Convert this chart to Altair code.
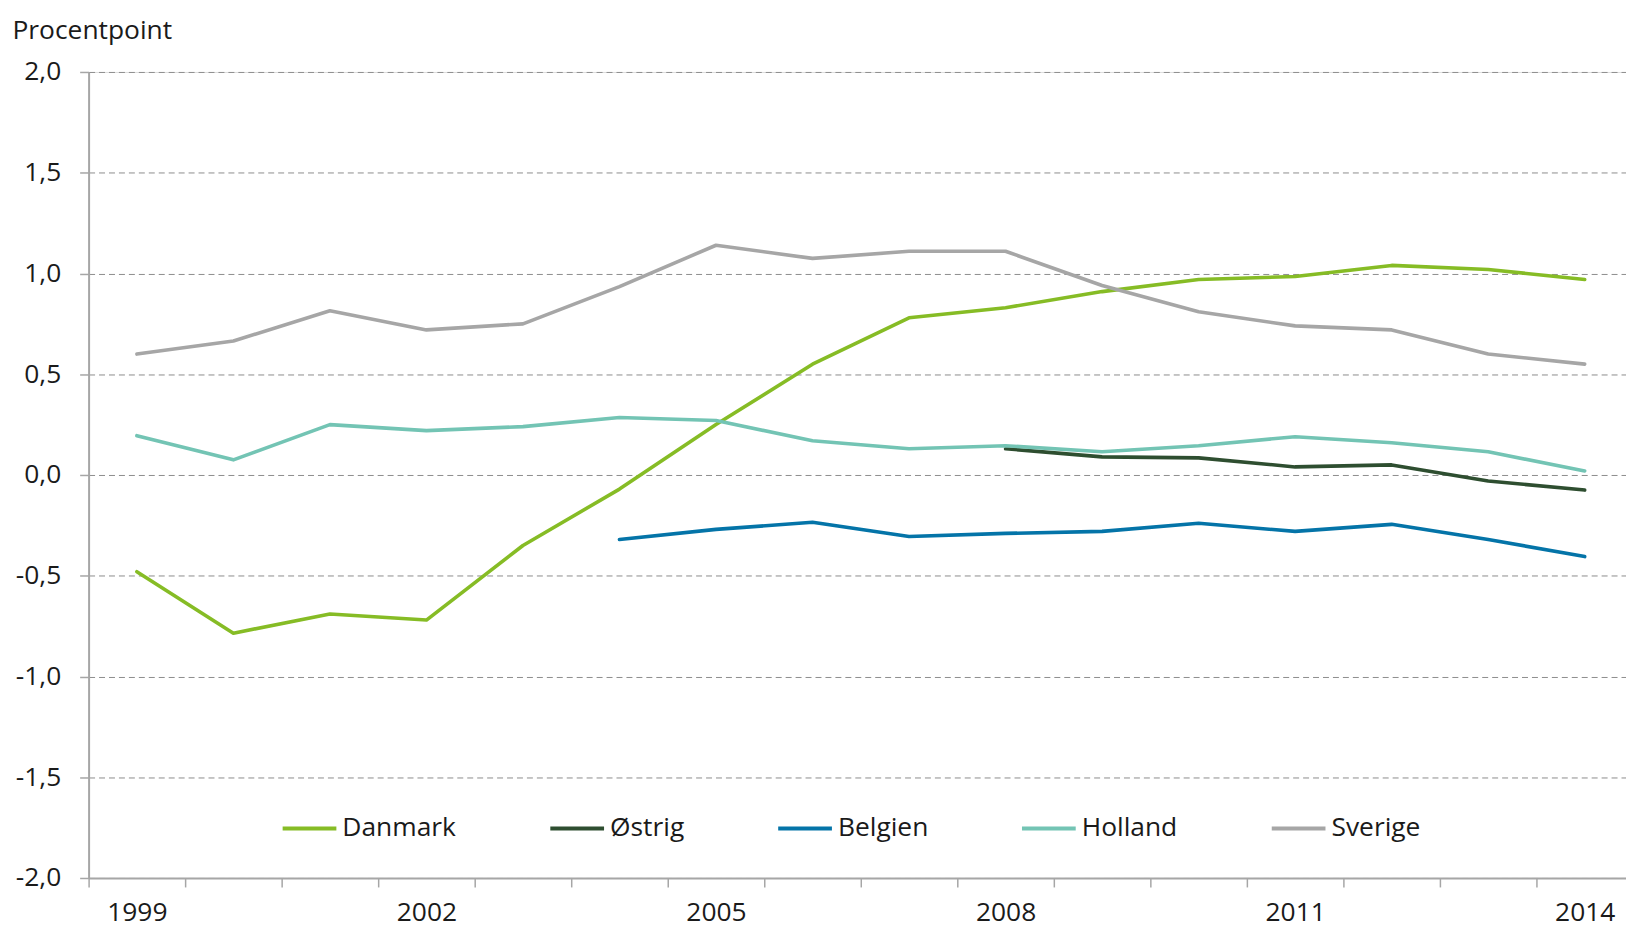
import altair as alt
import pandas as pd

years = [str(y) for y in range(1999, 2015)]

danmark = [-0.48, -0.785, -0.69, -0.72, -0.35, -0.07, 0.25, 0.55, 0.78, 0.83, 0.91, 0.97, 0.985, 1.04, 1.02, 0.97]
oestrig_years = [str(y) for y in range(2008, 2015)]
oestrig = [0.13, 0.09, 0.085, 0.04, 0.05, -0.03, -0.075]
belgien_years = [str(y) for y in range(2004, 2015)]
belgien = [-0.32, -0.27, -0.235, -0.305, -0.29, -0.28, -0.24, -0.28, -0.245, -0.32, -0.405]
holland = [0.195, 0.075, 0.25, 0.22, 0.24, 0.285, 0.27, 0.17, 0.13, 0.145, 0.115, 0.145, 0.19, 0.16, 0.115, 0.02]
sverige = [0.60, 0.665, 0.815, 0.72, 0.75, 0.935, 1.14, 1.075, 1.11, 1.11, 0.94, 0.81, 0.74, 0.72, 0.60, 0.55]

countries = ["Danmark", "Østrig", "Belgien", "Holland", "Sverige"]
colors = ["#86BC25", "#2E4E30", "#0474A8", "#73C4B4", "#A6A6A6"]

rows = []
for name, ys, vals in [
    ("Danmark", years, danmark),
    ("Østrig", oestrig_years, oestrig),
    ("Belgien", belgien_years, belgien),
    ("Holland", years, holland),
    ("Sverige", years, sverige),
]:
    for y, v in zip(ys, vals):
        rows.append({"år": y, "land": name, "værdi": v})
df = pd.DataFrame(rows)

FONT = "Open Sans"
TXT = "#1a1a1a"
AX = "#A6A6A6"
FS = 26.5

chart = alt.Chart(df).mark_line(strokeWidth=3.6, strokeCap="round", strokeJoin="round").encode(
    x=alt.X(
        "år:O",
        sort=years,
        bandPosition=0.5,
        scale=alt.Scale(type="band", domain=years, range=[0, 1552], paddingInner=0, paddingOuter=0),
        axis=alt.Axis(
            title=None,
            tickBand="extent",
            labelExpr="(+datum.value - 1999) % 3 == 0 ? datum.label : ''",
            labelAngle=0,
            labelFont=FONT,
            labelFontSize=FS,
            labelColor=TXT,
            labelBaseline="alphabetic",
            labelPadding=34,
            tickSize=9,
            tickColor=AX,
            tickWidth=1.5,
            domainColor=AX,
            domainWidth=2,
            grid=False,
        ),
    ),
    y=alt.Y(
        "værdi:Q",
        scale=alt.Scale(domain=[-2, 2], nice=False, zero=False),
        axis=alt.Axis(
            title="Procentpoint",
            titleAngle=0,
            titleAlign="left",
            titleBaseline="alphabetic",
            titleX=-77,
            titleY=-34,
            titleFont=FONT,
            titleFontSize=FS,
            titleFontWeight="normal",
            titleColor=TXT,
            values=[-2, -1.5, -1, -0.5, 0, 0.5, 1, 1.5, 2],
            labelExpr="replace(replace(format(datum.value, '.1f'), '.', ','), '\u2212', '-')",
            labelFont=FONT,
            labelFontSize=FS,
            labelColor=TXT,
            labelPadding=19,
            tickSize=9,
            tickColor=AX,
            tickWidth=1.5,
            domainColor=AX,
            domainWidth=2,
            grid=True,
            gridColor="#8C8C8C",
            gridDash=[6, 4],
            gridWidth=1,
        ),
    ),
    color=alt.Color(
        "land:N",
        sort=countries,
        scale=alt.Scale(domain=countries, range=colors),
        legend=alt.Legend(
            title=None,
            orient="none",
            direction="horizontal",
            legendX=193,
            legendY=731,
            padding=0,
            symbolType="stroke",
            symbolSize=2916,
            symbolStrokeWidth=4,
            labelFont=FONT,
            labelFontSize=FS,
            labelColor=TXT,
            labelOffset=4,
            columnPadding=86,
        ),
    ),
).properties(
    width=1545,
    height=810,
    padding={"left": 81, "top": 62, "right": 0, "bottom": 52},
    autosize=alt.AutoSizeParams(type="none"),
).configure_view(stroke=None).configure(background="white")

chart.save("out.html", embed_options={"renderer": "svg", "actions": False})
